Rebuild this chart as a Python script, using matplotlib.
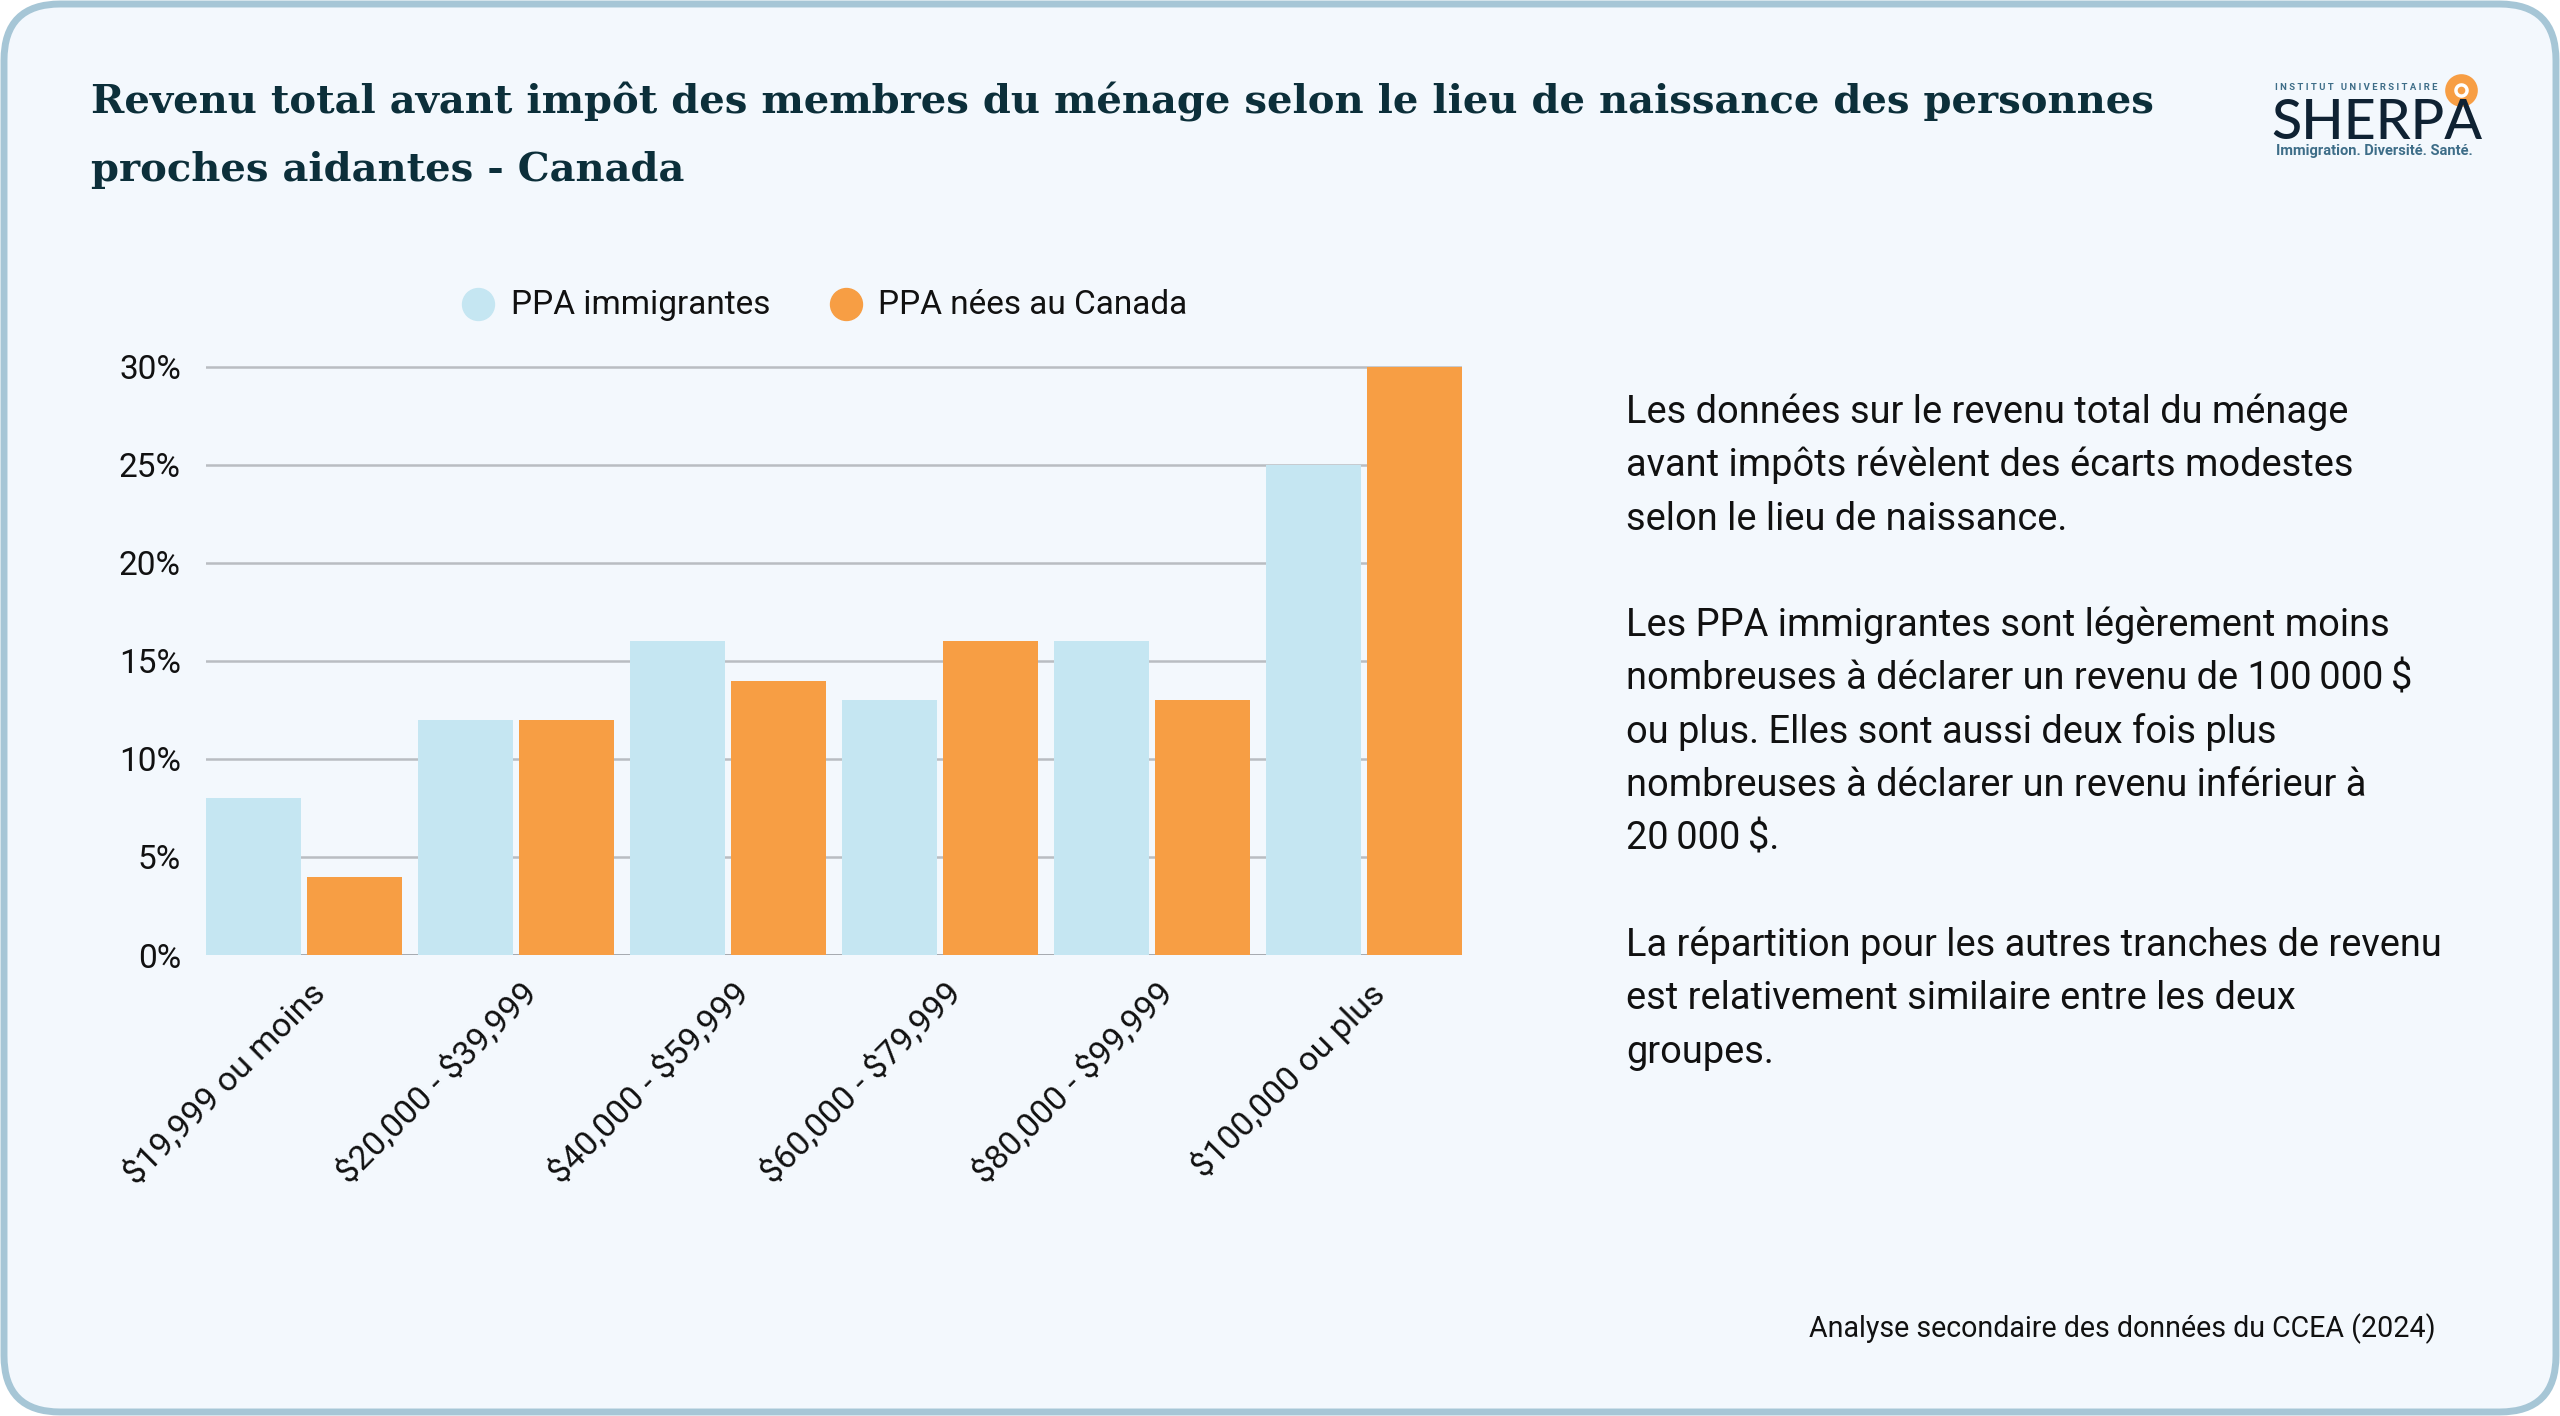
import matplotlib
matplotlib.use("Agg")
import matplotlib.pyplot as plt
from matplotlib.patches import FancyBboxPatch
from matplotlib.lines import Line2D
import matplotlib.transforms as mtransforms
import numpy as np

# données
categories = ["$19,999 ou moins", "$20,000 - $39,999", "$40,000 - $59,999",
              "$60,000 - $79,999", "$80,000 - $99,999", "$100,000 ou plus"]
immigrantes = [8, 12, 16, 13, 16, 25]
nees_canada = [4, 12, 14, 16, 13, 30]
series_names = ["PPA immigrantes", "PPA nées au Canada"]
y_ticks = [0, 5, 10, 15, 20, 25, 30]

title_lines = ["Revenu total avant impôt des membres du ménage selon le lieu de naissance des personnes",
               "proches aidantes - Canada"]
body_lines = ["Les données sur le revenu total du ménage",
              "avant impôts révèlent des écarts modestes",
              "selon le lieu de naissance.",
              "",
              "Les PPA immigrantes sont légèrement moins",
              "nombreuses à déclarer un revenu de 100\u202f000\u202f$",
              "ou plus. Elles sont aussi deux fois plus",
              "nombreuses à déclarer un revenu inférieur à",
              "20\u202f000\u202f$.",
              "",
              "La répartition pour les autres tranches de revenu",
              "est relativement similaire entre les deux",
              "groupes."]
source = "Analyse secondaire des données du CCEA (2024)"

BG = "#f3f8fd"
EDGE = "#a6c6d6"
BLUE = "#c5e6f2"
ORANGE = "#f79e44"
TITLE_COL = "#0c2f3a"
TXT = "#111111"
GRID = "#b9bdc2"

W, H = 2560, 1416
plt.rcParams['font.family'] = ['Roboto', 'DejaVu Sans']
plt.rcParams['text.parse_math'] = False

fig = plt.figure(figsize=(W / 100, H / 100), dpi=100)
fig.patch.set_facecolor("white")

# cadre arrondi
frame = FancyBboxPatch((4 / W, 4 / H), 1 - 8 / W, 1 - 8 / H,
                       boxstyle="round,pad=0,rounding_size=0.022",
                       transform=fig.transFigure, facecolor=BG, edgecolor=EDGE,
                       linewidth=5, mutation_aspect=W / H, zorder=0)
fig.add_artist(frame)

def fx(px):
    return px / W

def fy(py):
    return 1 - py / H

# titre
for i, line in enumerate(title_lines):
    fig.text(fx(91), fy(113 + 68 * i), line, family=['DejaVu Serif'], fontweight='bold',
             fontsize=28.9, color=TITLE_COL, va='baseline', ha='left')

# graphique
left, right, top, bottom = 206, 1462, 364, 955
ax = fig.add_axes([fx(left), fy(bottom), fx(right) - fx(left), (bottom - top) / H])
ax.set_facecolor("none")

x = np.arange(len(categories))
bw = 0.45
gap = 0.025
ax.bar(x - (bw + gap) / 2, immigrantes, width=bw, color=BLUE, zorder=3)
ax.bar(x + (bw + gap) / 2, nees_canada, width=bw, color=ORANGE, zorder=3)

ax.set_xlim(-(bw + gap / 2), len(categories) - 1 + bw + gap / 2)
ax.set_ylim(0, 30.15)
ax.set_yticks(y_ticks)
ax.set_yticklabels([f"{v}%" for v in y_ticks])
for v in y_ticks:
    ax.axhline(v, color=GRID if v else "#8e9298", lw=1.8, zorder=1)
for s in ax.spines.values():
    s.set_visible(False)
ax.tick_params(axis='y', length=0, pad=18, labelsize=24, labelcolor=TXT)
ax.tick_params(axis='x', length=0, pad=24)
ax.set_xticks(x)
ax.set_xticklabels(categories, rotation=45, ha='right', va='center',
                   rotation_mode='anchor', fontsize=24.5, color=TXT)
offset = mtransforms.ScaledTranslation(16 / 100, 0, fig.dpi_scale_trans)
for lab in ax.get_xticklabels():
    lab.set_transform(lab.get_transform() + offset)

# légende
for cx, tx, col, name in [(478, 511, BLUE, series_names[0]),
                          (846, 878, ORANGE, series_names[1])]:
    fig.add_artist(Line2D([fx(cx)], [fy(304)], transform=fig.transFigure,
                          marker='o', markersize=23, color=col, linestyle='none'))
    fig.text(fx(tx), fy(305), name, fontsize=24, color=TXT, va='center', ha='left')

# texte à droite
for i, line in enumerate(body_lines):
    if line:
        fig.text(fx(1626), fy(423 + 53.3 * i), line, fontsize=27.4, color=TXT,
                 va='baseline', ha='left')

# source
fig.text(fx(2436), fy(1337), source, fontsize=20.6, color=TXT, va='baseline', ha='right')

# logo
fig.text(fx(2275), fy(88), "I N S T I T U T   U N I V E R S I T A I R E", fontsize=6.8,
         color="#3d6d88", va='center', ha='left', fontweight='bold')
fig.text(fx(2271), fy(139), "SHERPA", fontsize=40, color="#0f2233", va='baseline',
         ha='left', family=['Lato', 'DejaVu Sans'], fontweight='medium')
fig.text(fx(2276), fy(151), "Immigration. Diversité. Santé.", fontsize=10.5,
         color="#3d6d88", va='center', ha='left', fontweight='bold')
fig.add_artist(Line2D([fx(2461)], [fy(90)], transform=fig.transFigure, marker='o',
                      markersize=17, markerfacecolor="white", markeredgecolor=ORANGE,
                      markeredgewidth=6.5, linestyle='none'))
fig.add_artist(Line2D([fx(2461)], [fy(90)], transform=fig.transFigure, marker='o',
                      markersize=4.5, color=ORANGE, linestyle='none'))

fig.savefig("out.png", dpi=100, facecolor=fig.get_facecolor())
